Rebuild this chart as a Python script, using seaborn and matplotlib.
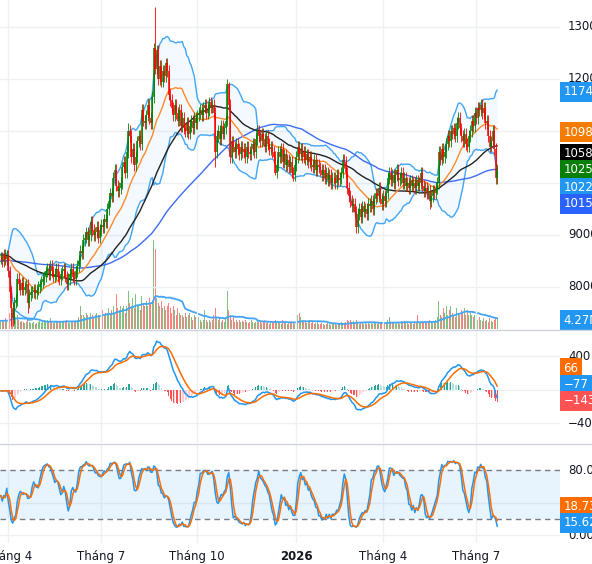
import numpy as np
import pandas as pd
import matplotlib
matplotlib.use("Agg")
import matplotlib.pyplot as plt
from matplotlib.lines import Line2D
import seaborn as sns

# ---- data (daily bars, 25/03/2025 .. 21/07/2026) ----
# closes before the visible window, only used to warm up the moving averages
prior_close = [
    8050, 8000, 7950, 8020, 8080, 8100, 8050, 8120, 8150, 8100,
    8180, 8200, 8150, 8220, 8250, 8200, 8280, 8300, 8250, 8320,
    8300, 8350, 8280, 8320, 8380, 8400, 8350, 8420, 8450, 8400,
    8380, 8450, 8500, 8460, 8420, 8480, 8520, 8500, 8550, 8520,
    8560, 8600, 8550, 8620, 8650, 8600, 8580, 8640, 8680, 8650,
    8700, 8650, 8620, 8680, 8720, 8700, 8660, 8640, 8700, 8750,
    8720, 8680, 8650, 8700, 8660, 8620, 8680, 8640, 8600, 8650,
    8620, 8580, 8640, 8600, 8560, 8620, 8580, 8550, 8600, 8640,
    8600, 8560, 8620, 8580, 8540, 8600, 8560, 8620, 8580, 8540,
    8600, 8560, 8520, 8580, 8620, 8560, 8600, 8540, 8580, 8560,
]
prior_volume = [3.5, 3, 4, 3.5, 3, 4, 3.5, 3, 3.5, 4,
                3, 3.5, 4, 3, 3.5, 4, 3, 3.5, 3, 4]

close = [
    8560, 8500, 8620, 8540, 8600,
    8300, 7900, 7600, 7400, 7700, 7750, 8150, 8050,
    7950, 8080, 7950, 8000, 8050, 7700, 7850, 7900,
    7900, 7950, 7880, 7950, 8000, 8050, 8100, 8150, 8200, 8300,
    8350, 8250, 8400, 8300, 8200, 8250, 8350, 8200, 8150, 8250,
    8300, 8350, 8200, 8050, 8150, 8250, 8350, 8200, 8150, 8300,
    8400, 8500, 8700, 8650, 8900, 8950, 9050, 8900, 9000, 9250,
    9100, 9000, 9050, 9150, 8950, 9100, 9200, 9150, 9300, 9250,
    9500, 9650, 9800, 9750, 10100, 10250, 9950, 9850, 9900, 10000,
    10300, 10400, 10200, 10600, 11000, 10900, 10500, 10650, 10350, 10500,
    10800, 10900, 10750, 11400, 11200, 11150, 11300, 11500, 11250, 11150,
    11650, 12600, 12200, 12550, 12000, 12250, 11950, 12150, 12050, 12300, 12150, 11700,
    11600, 11450, 11300, 11500, 11350, 11200, 11400, 11100, 11250, 11050,
    11000, 11150, 10950, 11100, 11200, 11050, 11250, 11150, 11300, 11350,
    11400, 11300, 11450, 11500, 11350, 11400, 11550, 11450, 11500, 11350,
    10600, 10900, 11000, 10850, 11100, 10950, 11050, 11200, 11900, 11500,
    10500, 10800, 10700, 10600, 10750, 10650, 10550, 10700, 10600, 10650,
    10500, 10700, 10600, 10550, 10650, 10750, 10600, 10850, 11000, 10900,
    10800, 10950, 10850, 10700, 10900, 10750, 10650, 10700, 10600, 10500,
    10200, 10350, 10600, 10500, 10650, 10400, 10550, 10350, 10450, 10300,
    10400, 10200, 10150, 10350, 10500, 10700, 10550, 10650, 10500, 10600,
    10450, 10550, 10400, 10500, 10350, 10300, 10450, 10250, 10350, 10300,
    10250, 10150, 10250, 10100, 10200, 10050, 10150, 10000, 10100, 10100,
    10000, 10150, 10050, 10100, 10200, 10450, 10400, 10200, 9900, 9750,
    9650, 9550, 9600, 9450, 9150, 9400, 9500, 9350, 9550, 9450,
    9500, 9400, 9600, 9550, 9650, 9500, 9700, 9800, 9750, 9900,
    9700, 9600, 9750, 9650, 9800, 10100, 10200, 10050, 10150, 10000,
    10150, 10250, 10050, 10100, 10200, 10000, 10100, 9950, 10000, 9900,
    10050, 9950, 10000, 9900, 10050, 9950, 10000, 10200, 9950, 9850,
    9900, 9800, 9850, 9650, 9750, 9850, 9800, 9900, 10000, 10600,
    10450, 10650, 10500, 10600, 10750, 10900, 10800, 11000, 10950, 11050,
    10900, 11150, 11250, 11050, 10900, 10800, 10950, 10750, 10700, 10900,
    11000, 11200, 11100, 11350, 11250, 11450, 11400, 11500, 11350, 11450,
    11150, 11200, 10900, 10700, 10800, 11000, 10650, 10100, 10250,
]

# volume, millions of shares
volume = [
    3.5, 4, 3, 4.5, 3.5,
    5, 7, 8, 7, 6, 5, 6, 4,
    3, 3.5, 3, 2.5, 3, 4.5, 3, 2.5,
    2.5, 3, 2, 2.5, 3, 3.5, 2.5, 3, 4, 3.5,
    4, 3, 4.5, 3, 2.5, 3, 3.5, 3, 2.5, 3,
    3, 3.5, 3, 4, 3, 2.5, 3, 3.5, 3, 4,
    4, 5, 10, 6, 6, 5, 7, 6, 5, 7,
    6, 5, 6, 7, 6, 5, 6, 8, 6, 7,
    7, 9, 6, 8, 10, 7, 15, 9, 8, 10,
    9, 10, 7, 10, 16, 11, 10, 13, 9, 15,
    10, 10, 8, 14, 11, 10, 12, 10, 13, 11,
    12, 38, 34, 13, 11, 10, 12, 9, 10, 8, 10, 11,
    9, 7, 10, 8, 6, 9, 7, 6, 6, 5,
    7, 5, 6, 7, 5, 4, 6, 5, 4, 5,
    4, 3, 4, 8, 4, 3, 4, 3, 4, 6,
    9, 5, 4, 5, 3, 4, 3, 5, 16, 8,
    6, 4, 5, 3, 4, 3, 4, 3, 3.5, 3,
    4, 3, 2.5, 3, 4, 3, 2.5, 3, 3.5, 3,
    3, 2.5, 3, 4, 2.5, 3, 2, 3, 2.5, 3,
    4, 3, 2.5, 3, 2, 4, 2.5, 3, 2, 2.5,
    3, 2.5, 3, 2, 3, 6, 7, 5, 3, 4,
    3, 2.5, 3, 4, 2.5, 3, 2, 2.5, 3, 2,
    2, 2.5, 2, 1.5, 2, 2.5, 2, 1.5, 2, 2.5,
    2, 1.5, 2, 2.5, 3, 2, 2.5, 3, 4, 3.5,
    4, 3, 3.5, 2.5, 4, 3, 2, 2.5, 3, 2,
    2.5, 2, 3, 2, 2.5, 2, 3, 2.5, 2, 3,
    2.5, 3, 2, 2.5, 3, 4, 5, 3, 2.5, 3,
    2, 2.5, 3, 2, 3.5, 3, 3.5, 2.5, 3, 2,
    2.5, 3, 2, 2.5, 3, 6, 3, 2.5, 3.5, 3,
    3, 2.5, 3, 4, 3, 2.5, 3, 4, 5, 12,
    6, 5, 9, 7, 10, 6, 8, 10, 7, 6,
    5, 9, 7, 6, 8, 7, 9, 6, 8, 6,
    7, 6, 5, 6, 5, 4, 5, 4, 3.5, 4.5,
    3.5, 4, 3, 4.5, 3.5, 3, 4, 5, 4.5,
]

# long wicks that stand out on the chart (bar index -> price)
wick_high = {85: 11150, 102: 12700, 103: 13380, 151: 12000, 152: 11950}
wick_low = {7: 7250, 8: 7250, 18: 7500, 143: 10300, 183: 10150, 237: 9040, 286: 9500}

holidays = ["2025-04-07", "2025-04-30", "2025-05-01", "2025-09-01", "2025-09-02",
            "2026-01-01", "2026-02-16", "2026-02-17", "2026-02-18", "2026-02-19",
            "2026-02-20", "2026-04-27", "2026-04-30", "2026-05-01"]

price_ticks = [13000, 12000, 9000, 8000]
price_grid = [13000, 12000, 11000, 10000, 9000, 8000]
price_tags = ["11740", "10980", "10580", "10250", "10220", "10150"]
volume_tag = "4.27M"
macd_ticks = [400, -400]
macd_tags = ["66", "\u221277", "\u2212143"]
stoch_tags = ["18.73", "15.62"]

# ---- indicators ----
n = len(close)
npre = len(prior_close)
c = pd.Series(prior_close + close, dtype=float)
o = c.shift(1).fillna(c.iloc[0])
wick = 110
hi = np.maximum(o, c) + wick
lo = np.minimum(o, c) - wick
for k, val in wick_high.items():
    hi[npre + k] = val
for k, val in wick_low.items():
    lo[npre + k] = val

ma20 = c.rolling(20, min_periods=1).mean()
sd20 = c.rolling(20, min_periods=1).std(ddof=0)
bb_up = ma20 + 2 * sd20
bb_lo = ma20 - 2 * sd20
ma50 = c.rolling(50, min_periods=1).mean()
ma100 = c.rolling(100, min_periods=1).mean()

macd = c.ewm(span=12, adjust=False).mean() - c.ewm(span=26, adjust=False).mean()
signal = macd.ewm(span=9, adjust=False).mean()
hist = macd - signal

ll = lo.rolling(14, min_periods=1).min()
hh = hi.rolling(14, min_periods=1).max()
k_raw = 100 * (c - ll) / (hh - ll)
stoch_k = k_raw.rolling(3, min_periods=1).mean()
stoch_d = stoch_k.rolling(3, min_periods=1).mean()

v = pd.Series(prior_volume + volume, dtype=float)
vol_ma = v.rolling(20, min_periods=1).mean()

vis = slice(npre, npre + n)
vvis = slice(len(prior_volume), len(prior_volume) + n)
x = np.arange(n)
C, O, H, L = c[vis].values, o[vis].values, hi[vis].values, lo[vis].values
up = C >= O

dates = pd.bdate_range("2025-03-25", "2026-08-31").drop(pd.to_datetime(holidays))[:n]
tick_pos, tick_lab = [], []
for i in range(1, n):
    if dates[i].month != dates[i - 1].month and dates[i].month in (1, 4, 7, 10):
        tick_pos.append(i)
        tick_lab.append(str(dates[i].year) if dates[i].month == 1 else f"Tháng {dates[i].month}")

# ---- figure ----
sns.set_theme(style="white")
plt.rcParams["font.family"] = ["DejaVu Sans"]

W, Hpx = 592, 564
fig = plt.figure(figsize=(W / 100, Hpx / 100), dpi=100)
right = 560 / W


def panel(top, bottom):
    return fig.add_axes([0, 1 - bottom / Hpx, right, (bottom - top) / Hpx])


ax = panel(0, 329)
ax_m = panel(330, 443)
ax_s = panel(444, 543)
ax_v = ax.twinx()
ax.set_zorder(ax_v.get_zorder() + 1)
ax.patch.set_visible(False)

grid_c = "#eef0f3"
txt_c = "#131722"
fs = 8.5
xlim = (-0.5, 372.8)

for a in (ax, ax_m, ax_s, ax_v):
    a.set_xlim(*xlim)
    for s in a.spines.values():
        s.set_visible(False)
    a.set_yticks([])
    a.set_xticks([])

for a in (ax, ax_m, ax_s):
    for t in tick_pos:
        a.axvline(t, color=grid_c, lw=1, zorder=0)

# price panel
ax.set_ylim(7192, 13519)
for t in price_grid:
    ax.axhline(t, color=grid_c, lw=1, zorder=0)
ax.fill_between(x, bb_lo[vis].values, bb_up[vis].values, color="#2196f3", alpha=0.05, lw=0, zorder=1)
bb_col = "#42a5f5"
sns.lineplot(x=x, y=bb_up[vis].values, ax=ax, color=bb_col, lw=1.0, zorder=2)
sns.lineplot(x=x, y=bb_lo[vis].values, ax=ax, color=bb_col, lw=1.0, zorder=2)
sns.lineplot(x=x, y=ma100[vis].values, ax=ax, color="#3d6bf5", lw=1.0, zorder=2)
sns.lineplot(x=x, y=ma50[vis].values, ax=ax, color="#222222", lw=1.0, zorder=2)
sns.lineplot(x=x, y=ma20[vis].values, ax=ax, color="#ff8a2b", lw=1.0, zorder=2)

ccol = np.where(up, "#008000", "#ff0000")
ax.vlines(x, L, H, colors=ccol, lw=0.6, zorder=3)
ax.vlines(x, np.minimum(O, C), np.maximum(O, C), colors=ccol, lw=1.1, zorder=3)

# volume overlay
ax_v.set_ylim(0, 140)
vcol = np.where(up, "#80c080", "#ff8080")
ax_v.bar(x, v[vvis].values, width=0.6, color=vcol, lw=0)
sns.lineplot(x=x, y=vol_ma[vvis].values, ax=ax_v, color="#42a5f5", lw=1.3)

# MACD panel
ax_m.set_ylim(-633, 716)
for t in (400, 0, -400):
    ax_m.axhline(t, color=grid_c, lw=1, zorder=0)
hv = hist[vis].values
hprev = hist.shift(1)[vis].values
hcol = np.where(hv >= 0, np.where(hv >= hprev, "#26a69a", "#b2dfdb"),
                np.where(hv < hprev, "#ff5252", "#ffcdd2"))
ax_m.bar(x, hv, width=0.6, color=hcol, lw=0, zorder=2)
sns.lineplot(x=x, y=macd[vis].values, ax=ax_m, color="#2196f3", lw=1.1, zorder=3)
sns.lineplot(x=x, y=signal[vis].values, ax=ax_m, color="#ff6d00", lw=1.1, zorder=3)

# Stochastic panel
ax_s.set_ylim(-9.2, 112)
for t in (0, 40):
    ax_s.axhline(t, color=grid_c, lw=1, zorder=0)
ax_s.axhspan(20, 80, color="#2196f3", alpha=0.1, lw=0, zorder=0)
for t in (80, 20):
    ax_s.axhline(t, color="#787b86", lw=1, ls=(0, (4, 3)), zorder=1)
sns.lineplot(x=x, y=stoch_k[vis].values, ax=ax_s, color="#2196f3", lw=1.1, zorder=3)
sns.lineplot(x=x, y=stoch_d[vis].values, ax=ax_s, color="#ff6d00", lw=1.1, zorder=3)

ax_s.set_xticks(tick_pos)
ax_s.set_xticklabels(tick_lab, fontsize=fs, color=txt_c)
for lab in ax_s.get_xticklabels():
    if lab.get_text().isdigit():
        lab.set_fontweight("bold")
ax_s.tick_params(axis="x", length=0, pad=5)

# right scale: ticks and value tags
tick_x = 568 / 560
tag_x = 563.5 / 560


def tick(a, y, s):
    a.text(tick_x, y, s, transform=a.get_yaxis_transform(), fontsize=fs,
           color=txt_c, va="center", ha="left", clip_on=False)


def tag(a, y, s, col):
    a.text(tag_x, y, s, transform=a.get_yaxis_transform(), fontsize=fs,
           color="white", va="center", ha="left", clip_on=False, zorder=10,
           bbox=dict(boxstyle="square,pad=0.3", fc=col, ec="none"))


for t in price_ticks:
    tick(ax, t, f"{t}")
tag_cols = ["#2196f3", "#f57c00", "#000000", "#087f08", "#2196f3", "#2962ff"]
tag_y = [11750, 10980, 10560, 10250, 9905, 9600]
for s, col, yv in zip(price_tags, tag_cols, tag_y):
    tag(ax, yv, s, col)
tag(ax_v, 3.8, volume_tag, "#2196f3")

for t in macd_ticks:
    tick(ax_m, t, f"{t}".replace("-", "\u2212"))
for s, col, yv in zip(macd_tags, ["#ff6d00", "#2196f3", "#ff5252"], [262, 60, -130]):
    tag(ax_m, yv, s, col)

tick(ax_s, 80, "80.00")
tick(ax_s, 0, "0.00")
for s, col, yv in zip(stoch_tags, ["#ff6d00", "#2196f3"], [35, 15.5]):
    tag(ax_s, yv, s, col)

# pane separators
for ypx in (329.5, 443.5):
    fig.add_artist(Line2D([0, 1], [1 - ypx / Hpx] * 2, transform=fig.transFigure,
                          color="#d1d4dc", lw=1))

fig.savefig("out.png", dpi=100)
